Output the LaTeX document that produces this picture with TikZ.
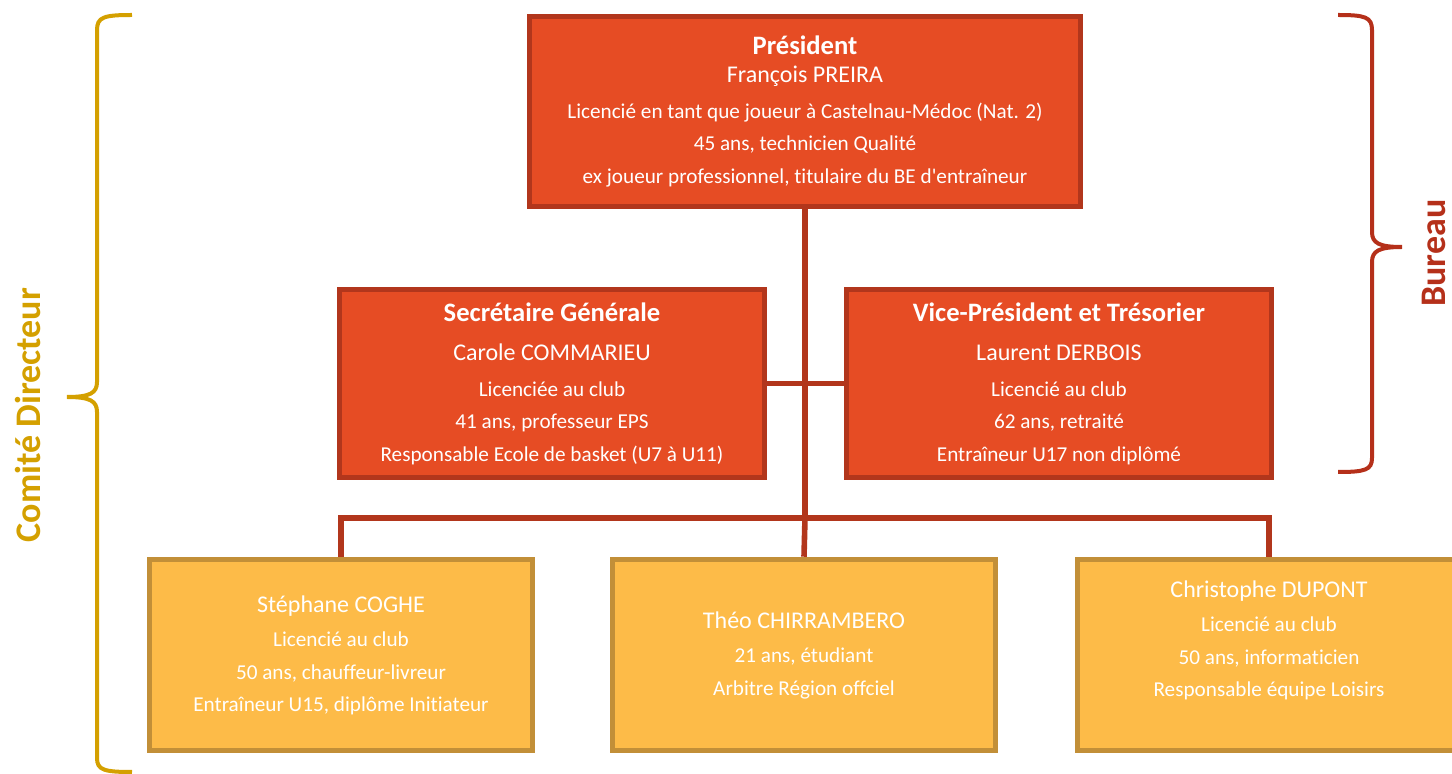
\documentclass[tikz,border=0pt]{standalone}
\usepackage{fontspec}
\setmainfont{Carlito}[Ligatures={NoCommon}]
\usetikzlibrary{backgrounds}
\definecolor{redfill}{RGB}{230,76,36}
\definecolor{redline}{RGB}{178,54,28}
\definecolor{yellowfill}{RGB}{253,187,72}
\definecolor{yellowline}{RGB}{194,143,56}
\definecolor{comitegold}{RGB}{212,160,0}
\definecolor{bureaured}{RGB}{181,48,26}
\newcommand\roletitle{\fontsize{13.3}{16}\selectfont\bfseries}
\newcommand\personname{\fontsize{12}{16}\selectfont}
\begin{document}
\begin{tikzpicture}[x=0.5pt,y=-0.5pt]
 \tikzset{redbox/.style={draw=redline,fill=redfill,line width=2.75pt,text=white,align=center,font=\fontsize{10.6}{16.5}\selectfont,minimum width=212.5pt,minimum height=94pt},
  yellowbox/.style={draw=yellowline,fill=yellowfill,line width=2.75pt,text=white,align=center,font=\fontsize{10.6}{16.5}\selectfont,minimum width=191.5pt,minimum height=95.5pt},
  link/.style={draw=redline,line width=2.8pt}}
  \useasboundingbox (0,0) rectangle (1452,774);
  \node[redbox, minimum width=275.5pt, minimum height=95pt] (President) at (805,111.5) {{\roletitle Président}\\[-2.5pt]
   {\personname François PREIRA}\\[1.5pt] Licencié en tant que joueur à Castelnau-Médoc (Nat. 2)\\[-0.5pt]
   45 ans, technicien Qualité\\ ex joueur professionnel, titulaire du BE d\textquotesingle entraîneur};
  \node[redbox] (Secretaire) at (552,383.5) {{\roletitle Secrétaire Générale}\\[3pt]
   {\personname Carole COMMARIEU}\\[1.5pt] Licenciée au club\\[-0.5pt]
   41 ans, professeur EPS\\ Responsable Ecole de basket (U7 à U11)};
  \node[redbox] (VicePresident) at (1059,383.5) {{\roletitle Vice-Président et Trésorier}\\[3pt]
   {\personname Laurent DERBOIS}\\[1.5pt] Licencié au club\\[-0.5pt]
   62 ans, retraité\\ Entraîneur U17 non diplômé};
  \node[yellowbox] (Stephane) at (341,655) {{\personname Stéphane COGHE}\\[0.5pt]
   Licencié au club\\ 50 ans, chauffeur-livreur\\[-0.5pt] Entraîneur U15, diplôme Initiateur};
  \node[yellowbox] (Theo) at (804,655) {{\personname Théo CHIRRAMBERO}\\[0.5pt]
   21 ans, étudiant\\ Arbitre Région offciel};
  \node[yellowbox] (Christophe) at (1269,655) {{\personname Christophe DUPONT}\\[0.5pt]
   Licencié au club\\ 50 ans, informaticien\\[-0.5pt] Responsable équipe Loisirs\\ ~};
  \coordinate (Bus) at (805,518);
  \begin{scope}[on background layer]
  \draw[link] (President.south) -- (Bus);
  \draw[link] (Stephane.north) |- (Bus) -| (Christophe.north);
  \draw[link] (Bus) -- (Theo.north);
  \draw[link] (Secretaire.east) -- (VicePresident.west);
  \end{scope}
  \draw[comitegold, line width=2pt] (132,15) .. controls (104,15) and (97,17) .. (97,30) -- (97,382)
   .. controls (97,393) and (90,397) .. (67,397) .. controls (90,397) and (97,401) .. (97,412) -- (97,758)
   .. controls (97,770) and (104,772) .. (132,772);
  \draw[bureaured, line width=2pt] (1338,15) .. controls (1365,15) and (1372,17) .. (1372,30) -- (1372,232)
   .. controls (1372,243) and (1379,247) .. (1402,247) .. controls (1379,247) and (1372,251) .. (1372,262) -- (1372,458)
   .. controls (1372,470) and (1365,472) .. (1338,472);
  \node[rotate=90, text=comitegold, font=\fontsize{18}{20}\selectfont\bfseries] (Comite) at (28,415) {Comité Directeur};
  \node[rotate=90, text=bureaured, font=\fontsize{18}{20}\selectfont\bfseries, inner sep=1pt] (Bureau) at (1434,253) {Bureau};
\end{tikzpicture}
\end{document}
